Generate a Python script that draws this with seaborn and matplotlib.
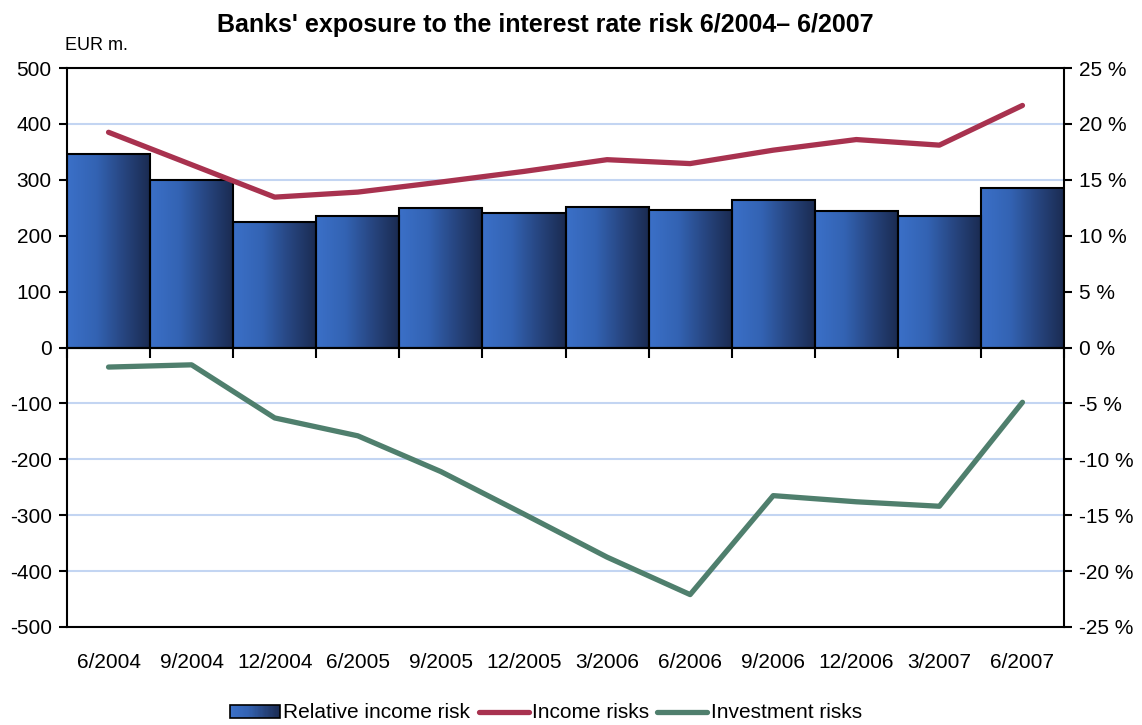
import numpy as np
import pandas as pd
import matplotlib
matplotlib.use("Agg")
import matplotlib.pyplot as plt
import seaborn as sns
from matplotlib.legend_handler import HandlerBase
from matplotlib.patches import Rectangle
from matplotlib.lines import Line2D
from matplotlib.colors import LinearSegmentedColormap
from matplotlib.ticker import FuncFormatter

# ---------------- data ----------------
categories = ["6/2004", "9/2004", "12/2004", "6/2005", "9/2005", "12/2005",
              "3/2006", "6/2006", "9/2006", "12/2006", "3/2007", "6/2007"]
relative_income_risk = [17.3, 15.0, 11.2, 11.8, 12.5, 12.0, 12.6, 12.3, 13.2, 12.2, 11.8, 14.3]  # %
income_risks = [385, 327, 269, 278, 296, 315, 336, 329, 353, 372, 362, 433]          # EUR m.
investment_risks = [-35, -31, -126, -158, -222, -298, -375, -442, -265, -276, -284, -98]  # EUR m.
left_ticks = [-500, -400, -300, -200, -100, 0, 100, 200, 300, 400, 500]
right_ticks = [-25, -20, -15, -10, -5, 0, 5, 10, 15, 20, 25]
title = "Banks' exposure to the interest rate risk 6/2004\u2013 6/2007"
unit_label = "EUR m."
series_names = ["Relative income risk", "Income risks", "Investment risks"]

income_color = "#a8324f"
invest_color = "#4f7f6d"
grid_color = "#c3d5f2"
bar_cmap = LinearSegmentedColormap.from_list(
    "bar", [(0.0, "#3b70c8"), (0.35, "#3363b3"), (0.7, "#26437c"), (1.0, "#1a2a50")])

sns.set_theme(style="white")
plt.rcParams['font.family'] = ['Liberation Sans', 'DejaVu Sans']
for k in ["text.color", "axes.labelcolor", "xtick.color", "ytick.color", "axes.edgecolor"]:
    plt.rcParams[k] = "black"

W, H = 1142, 725
fig = plt.figure(figsize=(W / 100, H / 100), dpi=100)
L, R, T, B = 67, 1064, 68, 627
ax = fig.add_axes([L / W, 1 - B / H, (R - L) / W, (B - T) / H])

bars_df = pd.DataFrame({"period": categories, "value": relative_income_risk})
sns.barplot(data=bars_df, x="period", y="value", ax=ax, width=1.0, color="#2a4f94",
            saturation=1, edgecolor="black", linewidth=1.5, zorder=2)

# gradient fill inside each bar
grad = np.linspace(0, 1, 256).reshape(1, -1)
for p in list(ax.patches):
    x0, y0, w, h = p.get_x(), p.get_y(), p.get_width(), p.get_height()
    ax.imshow(grad, extent=[x0, x0 + w, y0, y0 + h], aspect="auto",
              cmap=bar_cmap, zorder=2.1, interpolation="bilinear")
    p.set_facecolor("none")
    p.set_zorder(2.2)

n = len(categories)
ax.set_xlim(-0.5, n - 0.5)
ax.set_ylim(-25, 25)
ax.set_xticks(range(n))
ax.set_xticklabels(categories)
ax.set_xticks(np.arange(n + 1) - 0.5, minor=True)
ax.set_yticks(right_ticks)
ax.yaxis.set_major_formatter(FuncFormatter(lambda v, _: f"{int(round(v))} %"))
ax.set_xlabel("")
ax.set_ylabel("")
ax.set_axisbelow(True)
ax.yaxis.grid(True, color=grid_color, lw=1.5)
ax.xaxis.grid(False)

# lines on twin axis (EUR m.)
axl = ax.twinx()
pos = np.arange(n)
lines_df = pd.DataFrame({"pos": pos, "income": income_risks, "invest": investment_risks})
sns.lineplot(data=lines_df, x="pos", y="income", ax=axl, color=income_color, lw=3.8)
sns.lineplot(data=lines_df, x="pos", y="invest", ax=axl, color=invest_color, lw=3.8)
axl.set_ylim(-500, 500)
axl.set_yticks(left_ticks)
axl.yaxis.set_major_formatter(FuncFormatter(lambda v, _: f"{int(round(v))}"))
axl.set_xlabel("")
axl.set_ylabel("")
ax.set_xlim(-0.5, n - 0.5)

# axis placement
ax.yaxis.tick_right()
axl.yaxis.tick_left()
ax.tick_params(axis="y", which="major", right=True, left=False, labelright=True, labelleft=False,
               length=6, width=1.5, direction="out", labelsize=15, pad=5, color="black",
               labelcolor="black")
axl.tick_params(axis="y", which="major", left=True, right=False, labelleft=True, labelright=False,
                length=6, width=1.5, direction="out", labelsize=15, pad=5, color="black",
                labelcolor="black")
ax.tick_params(axis="x", which="major", bottom=True, length=0, labelsize=15, pad=19,
               labelcolor="black")
ax.tick_params(axis="x", which="minor", length=0)

axl.xaxis.set_visible(True)
axl.tick_params(axis="x", which="major", length=0, labelbottom=False, bottom=False)
axl.tick_params(axis="x", which="minor", bottom=True, length=7, width=1.5,
                direction="out", color="black", labelbottom=False)
axl.spines["bottom"].set_position(("data", 0))
axl.spines["bottom"].set_color("black")
axl.spines["bottom"].set_linewidth(1.5)
for s in ["top", "left", "right"]:
    axl.spines[s].set_visible(False)
for s in ax.spines.values():
    s.set_visible(True)
    s.set_color("black")
    s.set_linewidth(1.5)

# titles
fig.text(545 / W, 1 - 25 / H, title, ha="center", va="center", fontsize=18, fontweight="bold",
         color="black")
fig.text(65 / W, 1 - 45 / H, unit_label, ha="left", va="center", fontsize=13, color="black")


# legend with gradient patch
class GradientProxy:
    pass


class GradientHandler(HandlerBase):
    def create_artists(self, legend, orig_handle, xdescent, ydescent, width, height, fontsize, trans):
        arts = []
        nseg = 40
        for i in range(nseg):
            c = bar_cmap((i + 0.5) / nseg)
            arts.append(Rectangle((-xdescent + width * i / nseg, -ydescent), width / nseg * 1.1, height,
                                  facecolor=c, edgecolor="none", transform=trans))
        arts.append(Rectangle((-xdescent, -ydescent), width, height, facecolor="none",
                              edgecolor="black", lw=1.2, transform=trans))
        return arts


handles = [GradientProxy(),
           Line2D([], [], color=income_color, lw=3.8),
           Line2D([], [], color=invest_color, lw=3.8)]
leg = fig.legend(handles, series_names, handler_map={GradientProxy: GradientHandler()},
                 loc="center", bbox_to_anchor=(546 / W, 1 - 713 / H), ncol=3, frameon=False,
                 fontsize=15, handlelength=2.4, handleheight=0.6, handletextpad=0.15,
                 columnspacing=0.4, borderpad=0)
for t in leg.get_texts():
    t.set_color("black")

fig.savefig("out.png", dpi=100)
